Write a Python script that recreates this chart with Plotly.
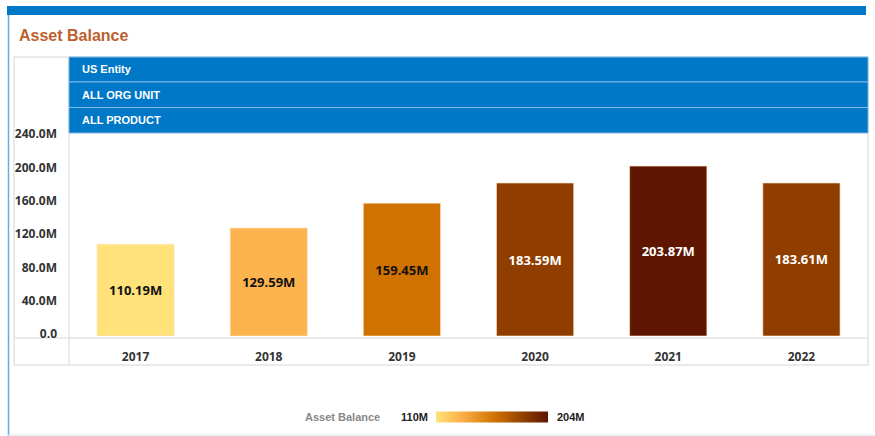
import plotly.graph_objects as go

years = ["2017", "2018", "2019", "2020", "2021", "2022"]
asset_balance = [110.19, 129.59, 159.45, 183.59, 203.87, 183.61]  # millions
y_tick_vals = [0, 40, 80, 120, 160, 200, 240]
y_tick_text = ["0.0", "40.0M", "80.0M", "120.0M", "160.0M", "200.0M", "240.0M"]
header_rows = ["US Entity", "ALL ORG UNIT", "ALL PRODUCT"]
title_text = "Asset Balance"
legend_title = "Asset Balance"

W, H = 875, 436
def px(x): return x / W
def py(y): return 1 - y / H

vmin, vmax = min(asset_balance), max(asset_balance)
def frac(v): return (v - vmin) / (vmax - vmin)
colorscale = [
    [0.0, "#FFE27A"],
    [frac(129.59), "#FDB44E"],
    [frac(159.45), "#D07200"],
    [frac(183.59), "#8F3E00"],
    [1.0, "#5E1600"],
]
text_colors = ["#111111" if frac(v) < 0.6 else "#FFFFFF" for v in asset_balance]

fig = go.Figure()
fig.add_trace(go.Bar(
    x=years, y=asset_balance,
    marker=dict(color=asset_balance, colorscale=colorscale, cmin=vmin, cmax=vmax,
                line=dict(color="rgba(255,230,200,0.6)", width=1),
                showscale=True,
                colorbar=dict(orientation="h", xref="container", yref="container",
                              x=436 / W, xanchor="left", y=(H - 416.5) / H, yanchor="middle",
                              len=112, lenmode="pixels", thickness=11,
                              showticklabels=False, ticks="", outlinewidth=0,
                              xpad=0, ypad=0)),
    texttemplate="%{y:.2f}M", textposition="inside", insidetextanchor="middle",
    textfont=dict(family="Open Sans", size=13, color=text_colors, weight="bold"),
    textangle=0, hoverinfo="x+y",
))

fig.update_layout(
    width=W, height=H, margin=dict(l=0, r=0, t=0, b=0, autoexpand=False),
    paper_bgcolor="white", plot_bgcolor="white", showlegend=False,
    bargap=0.42,
    xaxis=dict(domain=[px(69), px(868)], type="category", showgrid=False, zeroline=False,
               showline=False, ticks="", ticklabelstandoff=12,
               tickfont=dict(family="Open Sans", size=12, color="#333333", weight="bold")),
    yaxis=dict(domain=[py(336), py(136)], range=[0, 240], showgrid=False, zeroline=False,
               showline=False, tickvals=y_tick_vals, ticktext=y_tick_text, ticks="",
               ticklabelstandoff=11, ticklabelshift=-2,
               tickfont=dict(family="Open Sans", size=12, color="#333333", weight="bold")),
)

shapes = []
shapes.append(dict(type="rect", xref="paper", yref="paper", x0=px(7), x1=px(866), y0=py(15), y1=py(6),
                   fillcolor="#0078C8", line=dict(width=0), layer="below"))
shapes.append(dict(type="line", xref="paper", yref="paper", x0=px(8.5), x1=px(8.5), y0=py(15), y1=py(436),
                   line=dict(color="#6AAAE0", width=1.5)))
shapes.append(dict(type="line", xref="paper", yref="paper", x0=px(8), x1=px(875), y0=py(435), y1=py(435),
                   line=dict(color="#D0E6F4", width=1)))
shapes.append(dict(type="rect", xref="paper", yref="paper", x0=px(14), x1=px(868), y0=py(365), y1=py(57),
                   line=dict(color="#E4E4E4", width=1.5), layer="below"))
shapes.append(dict(type="line", xref="paper", yref="paper", x0=px(69), x1=px(69), y0=py(365), y1=py(57),
                   line=dict(color="#E4E4E4", width=1.5), layer="below"))
shapes.append(dict(type="line", xref="paper", yref="paper", x0=px(14), x1=px(868), y0=py(338), y1=py(338),
                   line=dict(color="#E4E4E4", width=1.5), layer="below"))
row_bounds = [(57, 82), (82, 107.5), (107.5, 133)]
for (a, b) in row_bounds:
    shapes.append(dict(type="rect", xref="paper", yref="paper", x0=px(69), x1=px(868), y0=py(b), y1=py(a),
                       fillcolor="#0078C8", line=dict(color="#7FB8E4", width=1)))
fig.update_layout(shapes=shapes)

ann = []
ann.append(dict(text=title_text, xref="paper", yref="paper", x=px(17), y=py(35), xanchor="left",
                yanchor="middle", showarrow=False,
                font=dict(family="Liberation Sans", size=16, color="#BD5F2E", weight="bold")))
for (a, b), label in zip(row_bounds, header_rows):
    ann.append(dict(text=label, xref="paper", yref="paper", x=px(80), y=py((a + b) / 2), xanchor="left",
                    yanchor="middle", showarrow=False,
                    font=dict(family="Liberation Sans", size=11, color="white", weight="bold")))
ann.append(dict(text=legend_title, xref="paper", yref="paper", x=px(382), y=py(417), xanchor="right",
                yanchor="middle", showarrow=False,
                font=dict(family="Liberation Sans", size=11, color="#888888", weight="bold")))
ann.append(dict(text=f"{round(vmin)}M", xref="paper", yref="paper", x=px(430), y=py(417), xanchor="right",
                yanchor="middle", showarrow=False,
                font=dict(family="Liberation Sans", size=11, color="#222222", weight="bold")))
ann.append(dict(text=f"{round(vmax)}M", xref="paper", yref="paper", x=px(555), y=py(417), xanchor="left",
                yanchor="middle", showarrow=False,
                font=dict(family="Liberation Sans", size=11, color="#222222", weight="bold")))
fig.update_layout(annotations=ann)

fig.write_html("out.html", config={"displayModeBar": False},
               post_script="document.body.style.margin='0';document.body.style.overflow='hidden';")
